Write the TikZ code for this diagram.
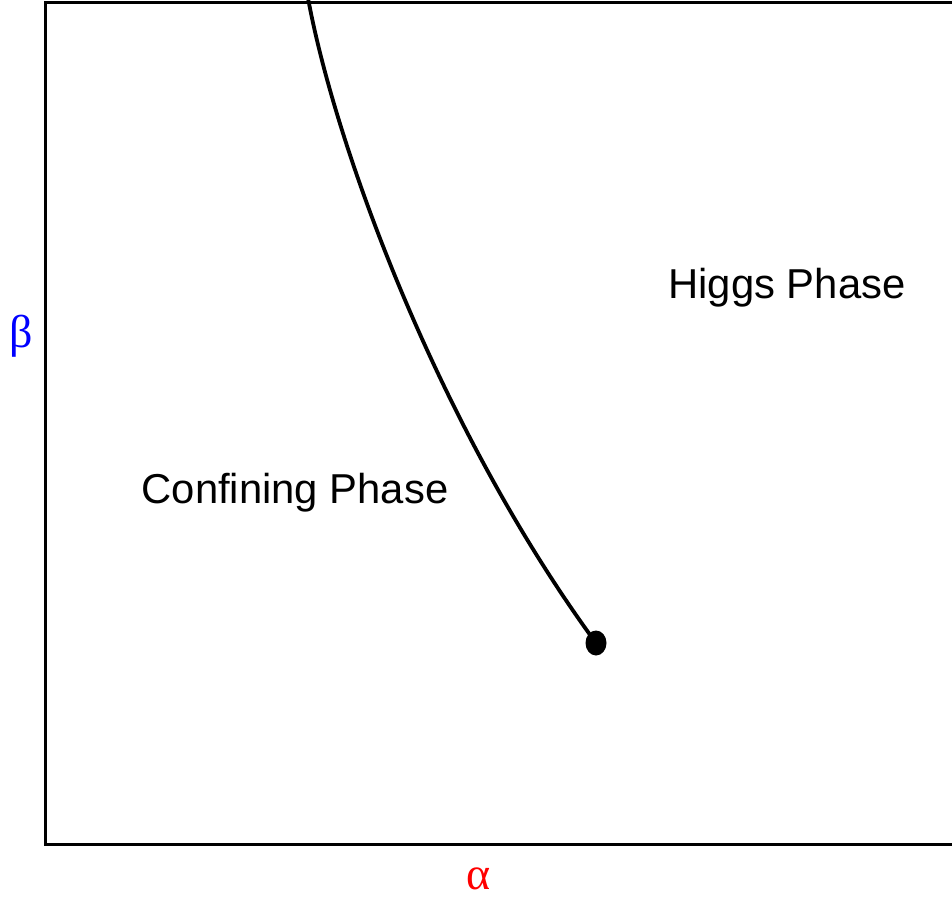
\documentclass[tikz,border=0pt]{standalone}
\usepackage{fontspec}
\setmainfont{Liberation Sans}
\newfontfamily\greekfont{Liberation Serif}
\usetikzlibrary{positioning}
\tikzset{
  frame/.style={line width=1.5pt},
  boundary/.style={line width=1.9pt},
  phaselabel/.style={font=\fontsize{20.9}{25}\selectfont, anchor=base, inner sep=0pt},
  axislabel/.style={font=\greekfont\fontsize{23}{27}\selectfont, inner sep=0pt}
}
\begin{document}
\begin{tikzpicture}[x=0.5pt, y=-0.5pt]
  \useasboundingbox (0,0) rectangle (952,900);

  %% Frame (open at the right edge)
  \draw[frame] (960,2) -- (45,2) -- (45,844) -- (960,844);

  %% Phase boundary ending in a critical point
  \coordinate (top) at (308,-2);
  \coordinate (endpt) at (596,643);
  \draw[boundary] (top) .. controls (336,150) and (440,430) .. (endpt);
  \fill (endpt) ellipse [x radius=10.5, y radius=12.5];

  %% Labels
  \node[phaselabel] (higgs) at (787,298) {Higgs Phase};
  \node[phaselabel] (conf)  at (295,503) {Confining Phase};
  \node[axislabel, text=blue] (beta)  at (21,336) {β};
  \node[axislabel, text=red]  (alpha) at (479,879) {α};
\end{tikzpicture}
\end{document}
